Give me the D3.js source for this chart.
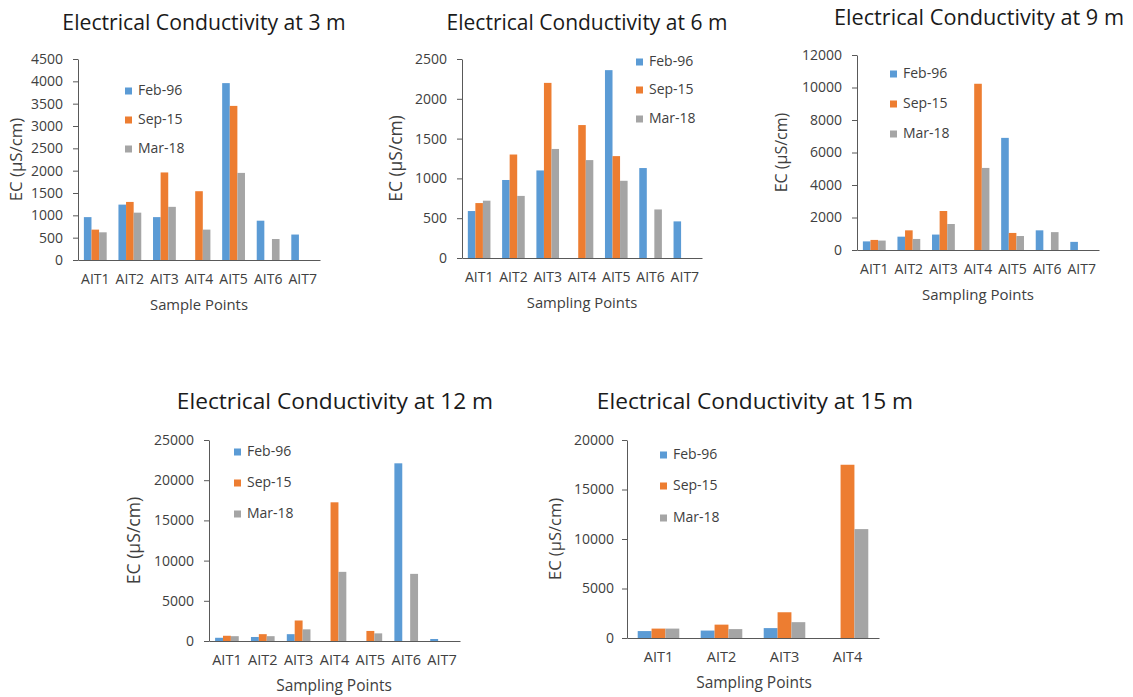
<!DOCTYPE html>
<html>
<head>
<meta charset="utf-8">
<script src="https://cdn.jsdelivr.net/npm/d3@7"></script>
<style>
  html, body { margin: 0; padding: 0; background: #ffffff; }
  svg { display: block; font-family: "Open Sans", "Noto Sans", sans-serif; }
</style>
</head>
<body>
<svg id="chart" width="1133" height="697"></svg>
<script>
// ---------- data ----------
const seriesNames = ["Feb-96", "Sep-15", "Mar-18"];
const pointsAll = ["AIT1", "AIT2", "AIT3", "AIT4", "AIT5", "AIT6", "AIT7"];
const points15m = ["AIT1", "AIT2", "AIT3", "AIT4"];

// 3 m
const ec3m_feb96 = [960, 1240, 960, null, 3960, 880, 570];
const ec3m_sep15 = [680, 1300, 1960, 1540, 3450, null, null];
const ec3m_mar18 = [620, 1060, 1190, 680, 1950, 470, null];
// 6 m
const ec6m_feb96 = [590, 980, 1100, null, 2360, 1130, 460];
const ec6m_sep15 = [690, 1300, 2200, 1670, 1280, null, null];
const ec6m_mar18 = [720, 780, 1370, 1230, 970, 610, null];
// 9 m
const ec9m_feb96 = [530, 820, 950, null, 6900, 1210, 500];
const ec9m_sep15 = [620, 1210, 2400, 10230, 1050, null, null];
const ec9m_mar18 = [580, 680, 1600, 5050, 860, 1100, null];
// 12 m
const ec12m_feb96 = [400, 500, 850, null, null, 22100, 250];
const ec12m_sep15 = [650, 850, 2550, 17250, 1250, null, null];
const ec12m_mar18 = [600, 600, 1450, 8600, 950, 8350, null];
// 15 m
const ec15m_feb96 = [700, 750, 1000, null];
const ec15m_sep15 = [950, 1350, 2600, 17500];
const ec15m_mar18 = [950, 900, 1600, 11000];

// tick values
const ticks3m = [0, 500, 1000, 1500, 2000, 2500, 3000, 3500, 4000, 4500];
const ticks6m = [0, 500, 1000, 1500, 2000, 2500];
const ticks9m = [0, 2000, 4000, 6000, 8000, 10000, 12000];
const ticks12m = [0, 5000, 10000, 15000, 20000, 25000];
const ticks15m = [0, 5000, 10000, 15000, 20000];

const titles = ["Electrical Conductivity at 3 m", "Electrical Conductivity at 6 m",
  "Electrical Conductivity at 9 m", "Electrical Conductivity at 12 m", "Electrical Conductivity at 15 m"];
const xTitles = ["Sample Points", "Sampling Points", "Sampling Points", "Sampling Points", "Sampling Points"];
const yTitle = "EC (µS/cm)";

// ---------- style / layout ----------
const colors = ["#5B9BD5", "#ED7D31", "#A5A5A5"];
const layouts = [
  {x0: 78, x1: 320, y0: 59, y1: 260, tickPad: 10, titleX: 204, titleY: 24, titleSize: 21.2, yLabX: 17, yLabSize: 16.8, legX: 125, legY: [91, 120, 149], xTitleX: 199, xTitleSize: 14.8, xTickSize: 14},
  {x0: 462, x1: 702, y0: 59, y1: 258, tickPad: 10, titleX: 587, titleY: 24, titleSize: 21, yLabX: 397, yLabSize: 17.4, legX: 636, legY: [62, 90, 119], xTitleX: 582, xTitleSize: 14.8, xTickSize: 14},
  {x0: 857, x1: 1099, y0: 55, y1: 250, tickPad: 10, titleX: 979, titleY: 19, titleSize: 21.7, yLabX: 783, yLabSize: 16, legX: 890, legY: [74, 104, 134], xTitleX: 978, xTitleSize: 15, xTickSize: 14},
  {x0: 209, x1: 460, y0: 440, y1: 641, tickPad: 10, titleX: 335, titleY: 403, titleSize: 22.7, yLabX: 135, yLabSize: 17.6, legX: 234, legY: [452, 483, 514], xTitleX: 334, xTitleSize: 15.5, xTickSize: 14.5},
  {x0: 627, x1: 879, y0: 440, y1: 638, tickPad: 8, titleX: 755, titleY: 403, titleSize: 22.7, yLabX: 557, yLabSize: 16.5, legX: 660, legY: [455, 486, 518], xTitleX: 754, xTitleSize: 15.5, xTickSize: 14.5}
];

const chartsData = [
  {cats: pointsAll, series: [ec3m_feb96, ec3m_sep15, ec3m_mar18], ticks: ticks3m},
  {cats: pointsAll, series: [ec6m_feb96, ec6m_sep15, ec6m_mar18], ticks: ticks6m},
  {cats: pointsAll, series: [ec9m_feb96, ec9m_sep15, ec9m_mar18], ticks: ticks9m},
  {cats: pointsAll, series: [ec12m_feb96, ec12m_sep15, ec12m_mar18], ticks: ticks12m},
  {cats: points15m, series: [ec15m_feb96, ec15m_sep15, ec15m_mar18], ticks: ticks15m}
];

const svg = d3.select("#chart");
const axisColor = "#595959";
const textColor = "#404040";

chartsData.forEach((cd, i) => {
  const L = layouts[i];
  const g = svg.append("g");
  const x = d3.scaleBand().domain(cd.cats).range([L.x0, L.x1]).paddingInner(0).paddingOuter(0);
  const groupFrac = 0.66;
  const xs = d3.scaleBand().domain(d3.range(seriesNames.length))
    .range([x.bandwidth() * (1 - groupFrac) / 2, x.bandwidth() * (1 + groupFrac) / 2]);
  const y = d3.scaleLinear().domain([0, d3.max(cd.ticks)]).range([L.y1, L.y0]);

  // bars
  cd.series.forEach((vals, si) => {
    g.append("g").selectAll("rect")
      .data(cd.cats.map((c, k) => ({c, v: vals[k]})).filter(d => d.v != null))
      .join("rect")
      .attr("x", d => x(d.c) + xs(si))
      .attr("width", xs.bandwidth())
      .attr("y", d => y(d.v))
      .attr("height", d => y(0) - y(d.v))
      .attr("fill", colors[si]);
  });

  // y axis
  const yAxis = g.append("g").attr("transform", `translate(${L.x0},0)`)
    .call(d3.axisLeft(y).tickValues(cd.ticks).tickSizeInner(5).tickSizeOuter(0).tickPadding(L.tickPad).tickFormat(d3.format("d")));
  yAxis.select(".domain").attr("stroke", axisColor).attr("stroke-width", 1);
  yAxis.selectAll(".tick line").attr("stroke", axisColor);
  yAxis.selectAll("text").attr("font-size", 14).attr("fill", textColor).attr("font-family", "Open Sans");

  // x axis
  const xAxis = g.append("g").attr("transform", `translate(0,${L.y1})`)
    .call(d3.axisBottom(x).tickSize(0).tickPadding(14));
  xAxis.select(".domain").attr("stroke", axisColor).attr("stroke-width", 1);
  xAxis.selectAll("text").attr("font-size", L.xTickSize).attr("fill", textColor).attr("font-family", "Open Sans");

  // title
  g.append("text").attr("x", L.titleX).attr("y", L.titleY)
    .attr("text-anchor", "middle").attr("dominant-baseline", "middle")
    .attr("font-size", L.titleSize).attr("fill", "#1a1a1a").text(titles[i]);

  // x title
  g.append("text").attr("x", L.xTitleX).attr("y", L.y1 + 46)
    .attr("text-anchor", "middle").attr("dominant-baseline", "middle")
    .attr("font-size", L.xTitleSize).attr("fill", textColor).text(xTitles[i]);

  // y title
  g.append("text")
    .attr("transform", `translate(${L.yLabX},${(L.y0 + L.y1) / 2}) rotate(-90)`)
    .attr("text-anchor", "middle").attr("dominant-baseline", "middle")
    .attr("font-size", L.yLabSize).attr("fill", textColor).text(yTitle);

  // legend
  seriesNames.forEach((s, si) => {
    g.append("rect").attr("x", L.legX).attr("y", L.legY[si] - 3.5)
      .attr("width", 7).attr("height", 7).attr("fill", colors[si]);
    g.append("text").attr("x", L.legX + 13).attr("y", L.legY[si])
      .attr("dominant-baseline", "middle").attr("font-size", 14).attr("fill", textColor).text(s);
  });
});
</script>
</body>
</html>
